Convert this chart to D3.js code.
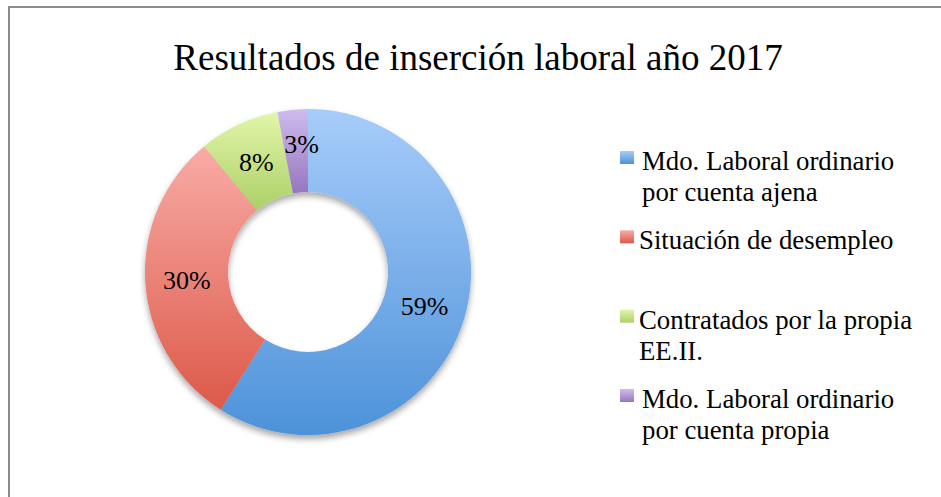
<!DOCTYPE html>
<html>
<head>
<meta charset="utf-8">
<script src="https://cdn.jsdelivr.net/npm/d3@7"></script>
<style>
  html, body { margin: 0; padding: 0; background: #fff; }
  svg { display: block; }
  text { font-family: "Liberation Serif", "Times New Roman", Times, serif; }
</style>
</head>
<body>
<svg width="941" height="497"></svg>
<script>
var categories = [
  "Mdo. Laboral ordinario por cuenta ajena",
  "Situación de desempleo",
  "Contratados por la propia EE.II.",
  "Mdo. Laboral ordinario por cuenta propia"
];
var legendLines = [
  ["Mdo. Laboral ordinario", "por cuenta ajena"],
  ["Situación de desempleo"],
  ["Contratados por la propia", "EE.II."],
  ["Mdo. Laboral ordinario", "por cuenta propia"]
];
var values = [59, 30, 8, 3];
var topColors = ["#a7ccfa", "#f9aba6", "#e2f5a9", "#cfbcee"];
var bottomColors = ["#4d92d9", "#dc5949", "#acd068", "#9676be"];
var title = "Resultados de inserción laboral año 2017";

var svg = d3.select("svg");
var cx = 308, cy = 272;
var outerR = 163, innerR = 80;
var serif = "'Liberation Serif', 'Times New Roman', Times, serif";

// frame
svg.append("rect")
  .attr("x", 9).attr("y", 7)
  .attr("width", 960).attr("height", 520)
  .attr("fill", "none")
  .attr("stroke", "#8c8c8c")
  .attr("stroke-width", 2);

var defs = svg.append("defs");
categories.forEach(function(c, i) {
  var g = defs.append("linearGradient")
    .attr("id", "grad" + i)
    .attr("x1", 0).attr("y1", 0).attr("x2", 0).attr("y2", 1);
  g.append("stop").attr("offset", "0%").attr("stop-color", topColors[i]);
  g.append("stop").attr("offset", "100%").attr("stop-color", bottomColors[i]);
});

var shadow = defs.append("filter").attr("id", "shadow")
  .attr("x", "-20%").attr("y", "-20%").attr("width", "140%").attr("height", "140%");
shadow.append("feDropShadow")
  .attr("dx", 0).attr("dy", 4)
  .attr("stdDeviation", 3)
  .attr("flood-color", "#000")
  .attr("flood-opacity", 0.35);

// title
svg.append("text")
  .attr("x", 478).attr("y", 70)
  .attr("text-anchor", "middle")
  .attr("font-family", serif)
  .attr("font-size", 37)
  .attr("fill", "#000")
  .text(title);

var pie = d3.pie().sort(null).value(function(d) { return d; });
var arc = d3.arc().innerRadius(innerR).outerRadius(outerR);
var arcs = pie(values);

var donut = svg.append("g")
  .attr("transform", "translate(" + cx + "," + cy + ")");

donut.append("g")
  .attr("filter", "url(#shadow)")
  .selectAll("path")
  .data(arcs)
  .enter().append("path")
  .attr("d", arc)
  .attr("fill", function(d, i) { return "url(#grad" + i + ")"; });

var labelOffset = [[0, 0], [0, 0], [0, 0], [5, -7]];
donut.selectAll("text.lbl")
  .data(arcs)
  .enter().append("text")
  .attr("class", "lbl")
  .attr("x", function(d, i) { return arc.centroid(d)[0] + labelOffset[i][0]; })
  .attr("y", function(d, i) { return arc.centroid(d)[1] + labelOffset[i][1]; })
  .attr("dy", "0.35em")
  .attr("text-anchor", "middle")
  .attr("font-family", serif)
  .attr("font-size", 26)
  .attr("fill", "#000")
  .text(function(d) { return d.data + "%"; });

// legend
var legendY = d3.scaleLinear().domain([0, 3]).range([170, 408]);
var legendTextX = [642, 639, 639, 642];
var legend = svg.append("g");
var item = legend.selectAll("g")
  .data(legendLines)
  .enter().append("g")
  .attr("transform", function(d, i) { return "translate(0," + legendY(i) + ")"; });

item.append("rect")
  .attr("x", 620).attr("y", -19)
  .attr("width", 14).attr("height", 13)
  .attr("fill", function(d, i) { return "url(#grad" + i + ")"; });

item.each(function(lines, i) {
  var t = d3.select(this).append("text")
    .attr("font-family", serif)
    .attr("font-size", 26.8)
    .attr("fill", "#000");
  lines.forEach(function(line, j) {
    t.append("tspan")
      .attr("x", legendTextX[i])
      .attr("y", j * 31)
      .text(line);
  });
});
</script>
</body>
</html>
